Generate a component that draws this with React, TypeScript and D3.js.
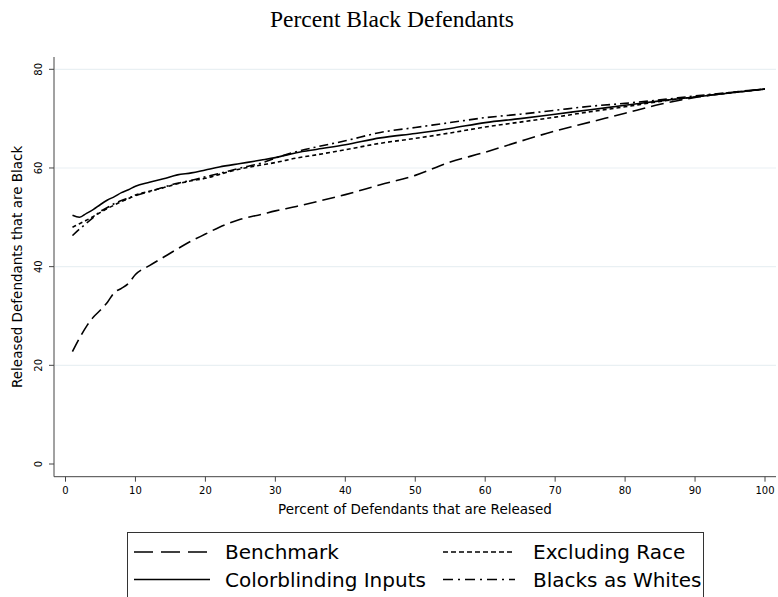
import { useEffect, useRef } from "react";
import * as d3 from "d3";

// percent of defendants released (x)
const pctReleased = [1, 2, 3, 4, 5, 6, 7, 8, 9, 10, 12, 14, 16, 18, 20, 22, 25, 28, 30, 33, 36, 40, 45, 50, 55, 60, 65, 70, 75, 80, 85, 90, 95, 100];

const benchmark = [22.8, 25.5, 27.9, 29.8, 31.2, 32.8, 34.8, 35.6, 36.6, 38.4, 40.2, 41.9, 43.6, 45.2, 46.6, 48.0, 49.6, 50.6, 51.3, 52.2, 53.2, 54.6, 56.6, 58.5, 61.2, 63.2, 65.4, 67.5, 69.3, 71.1, 72.9, 74.3, 75.3, 76.0];
const colorblinding = [50.4, 50.0, 50.8, 51.6, 52.6, 53.5, 54.2, 55.0, 55.6, 56.3, 57.1, 57.8, 58.6, 59.0, 59.6, 60.2, 60.9, 61.6, 62.1, 63.1, 63.8, 64.7, 66.1, 67.0, 68.0, 69.2, 70.0, 70.9, 71.8, 72.7, 73.6, 74.4, 75.2, 76.0];
const excludingRace = [48.0, 48.7, 49.4, 50.2, 51.0, 51.8, 52.5, 53.2, 53.8, 54.5, 55.3, 56.0, 56.8, 57.4, 57.9, 58.7, 59.8, 60.6, 61.1, 62.0, 62.7, 63.7, 65.0, 66.0, 67.1, 68.3, 69.3, 70.3, 71.4, 72.4, 73.5, 74.4, 75.2, 76.0];
const blacksAsWhites = [46.3, 47.6, 48.8, 50.0, 51.2, 52.0, 52.8, 53.4, 53.9, 54.4, 55.2, 56.1, 56.9, 57.5, 58.2, 58.9, 60.0, 61.0, 62.0, 63.3, 64.3, 65.5, 67.2, 68.2, 69.2, 70.2, 70.9, 71.7, 72.5, 73.1, 73.8, 74.6, 75.3, 76.0];

const xTicks = [0, 10, 20, 30, 40, 50, 60, 70, 80, 90, 100];
const yTicks = [0, 20, 40, 60, 80];
const gridTicks = [20, 40, 60, 80];

const seriesList = [
  { name: "Benchmark", values: benchmark, dash: "13,6", legendDash: "19,8" },
  { name: "Colorblinding Inputs", values: colorblinding, dash: null, legendDash: null },
  { name: "Excluding Race", values: excludingRace, dash: "4,3", legendDash: "5,3" },
  { name: "Blacks as Whites", values: blacksAsWhites, dash: "9,4,2,4", legendDash: "10,5,2,5" },
];

const App = () => {
  const chartRef = useRef<SVGSVGElement>(null);

  useEffect(() => {
    if (!chartRef.current) return;
    const svg = d3.select(chartRef.current);
    svg.selectAll("*").remove();

    const W = 778;
    const H = 597;
    const sans = "DejaVu Sans, sans-serif";

    const x = d3.scaleLinear().domain([0, 100]).range([65.5, 765]);
    const y = d3.scaleLinear().domain([0, 80]).range([464, 69.3]);
    const axisY = 476.7;
    const axisX = 54;

    svg.append("rect").attr("width", W).attr("height", H).attr("fill", "#fff");

    // title
    svg.append("text")
      .attr("x", 392)
      .attr("y", 27)
      .attr("text-anchor", "middle")
      .style("font-family", "Liberation Serif, Times New Roman, serif")
      .style("font-size", "23.5px")
      .text("Percent Black Defendants");

    // gridlines
    svg.append("g")
      .selectAll("line")
      .data(gridTicks)
      .enter()
      .append("line")
      .attr("x1", axisX + 1)
      .attr("x2", 776)
      .attr("y1", (d) => y(d))
      .attr("y2", (d) => y(d))
      .attr("stroke", "#e9f0f3")
      .attr("stroke-width", 1.2);

    // axes
    svg.append("line")
      .attr("x1", axisX).attr("x2", axisX)
      .attr("y1", 57).attr("y2", axisY)
      .attr("stroke", "#444").attr("stroke-width", 1);
    svg.append("line")
      .attr("x1", axisX).attr("x2", 776)
      .attr("y1", axisY).attr("y2", axisY)
      .attr("stroke", "#444").attr("stroke-width", 1);

    const yg = svg.append("g");
    yTicks.forEach((t) => {
      yg.append("line")
        .attr("x1", axisX - 5).attr("x2", axisX)
        .attr("y1", y(t)).attr("y2", y(t))
        .attr("stroke", "#444");
      yg.append("text")
        .attr("transform", `translate(${axisX - 12},${y(t)}) rotate(-90)`)
        .attr("text-anchor", "middle")
        .style("font-family", sans)
        .style("font-size", "10px")
        .text(t);
    });

    const xg = svg.append("g");
    xTicks.forEach((t) => {
      xg.append("line")
        .attr("x1", x(t)).attr("x2", x(t))
        .attr("y1", axisY).attr("y2", axisY + 5)
        .attr("stroke", "#444");
      xg.append("text")
        .attr("x", x(t))
        .attr("y", axisY + 17)
        .attr("text-anchor", "middle")
        .style("font-family", sans)
        .style("font-size", "10px")
        .text(t);
    });

    // axis titles
    svg.append("text")
      .attr("x", 415)
      .attr("y", 514)
      .attr("text-anchor", "middle")
      .style("font-family", sans)
      .style("font-size", "13.5px")
      .text("Percent of Defendants that are Released");

    svg.append("text")
      .attr("transform", `translate(22,${(57 + axisY) / 2}) rotate(-90)`)
      .attr("text-anchor", "middle")
      .style("font-family", sans)
      .style("font-size", "13.5px")
      .text("Released Defendants that are Black");

    // lines
    const line = d3
      .line<number>()
      .x((_, i) => x(pctReleased[i]))
      .y((d) => y(d))
      .curve(d3.curveMonotoneX);

    seriesList.forEach((s) => {
      svg.append("path")
        .datum(s.values)
        .attr("d", line)
        .attr("fill", "none")
        .attr("stroke", "#000")
        .attr("stroke-width", 1.6)
        .attr("stroke-dasharray", s.dash);
    });

    // legend
    const lg = svg.append("g");
    lg.append("rect")
      .attr("x", 127.5)
      .attr("y", 532.5)
      .attr("width", 576)
      .attr("height", 80)
      .attr("fill", "#fff")
      .attr("stroke", "#333")
      .attr("stroke-width", 1);

    const legendPos = [
      { lx: 134, lw: 76, tx: 225, ty: 552 },
      { lx: 134, lw: 76, tx: 225, ty: 579.5 },
      { lx: 443, lw: 72, tx: 533, ty: 552 },
      { lx: 443, lw: 72, tx: 533, ty: 579.5 },
    ];
    seriesList.forEach((s, i) => {
      const p = legendPos[i];
      lg.append("line")
        .attr("x1", p.lx).attr("x2", p.lx + p.lw)
        .attr("y1", p.ty).attr("y2", p.ty)
        .attr("stroke", "#000")
        .attr("stroke-width", 1.6)
        .attr("stroke-dasharray", s.legendDash);
      lg.append("text")
        .attr("x", p.tx)
        .attr("y", p.ty)
        .attr("dy", "0.35em")
        .style("font-family", sans)
        .style("font-size", "20px")
        .text(s.name);
    });
  }, []);

  return (
    <div style={{ position: "absolute", left: 0, top: 0 }}>
      <svg ref={chartRef} width={778} height={597} style={{ display: "block" }} />
    </div>
  );
};

export default App;
